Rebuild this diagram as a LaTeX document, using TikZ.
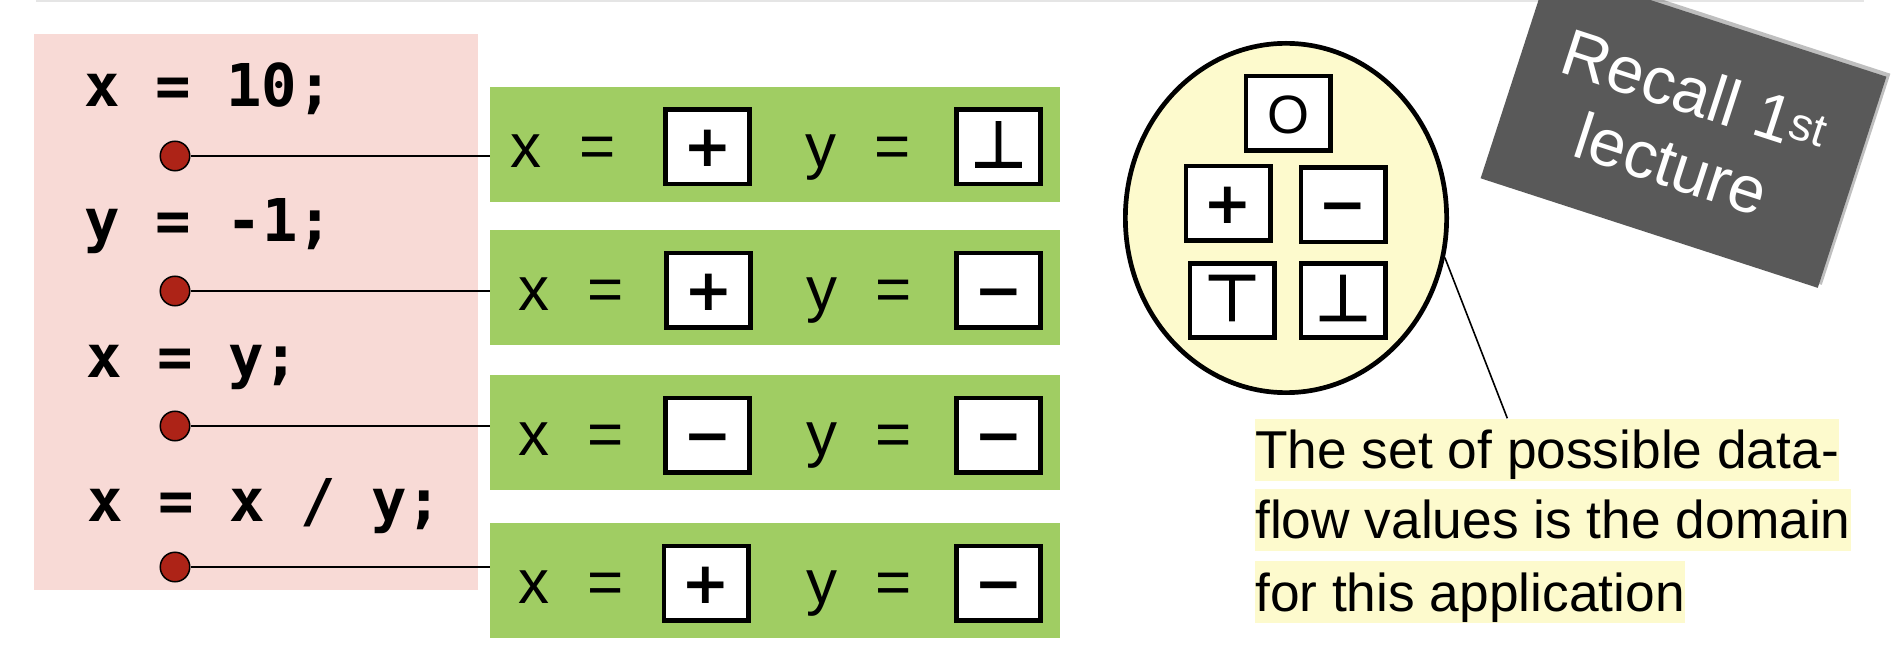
\documentclass[tikz,border=0pt]{standalone}
\usepackage{fontspec}
\setmainfont{Liberation Sans}
\setmonofont{DejaVu Sans Mono}
\newfontfamily\symfont{DejaVu Sans}
\newfontfamily\tackfont[FakeBold=3]{DejaVu Sans}
\usetikzlibrary{
  calc,
  positioning,
  shadows,
  shapes.geometric
}
\definecolor{blush}{HTML}{F8DAD6}
\definecolor{leaf}{HTML}{A0CD63}
\definecolor{lemon}{HTML}{FDFACD}
\definecolor{dotred}{HTML}{AD2317}
\definecolor{slate}{HTML}{595959}
\newcommand{\codefont}{\fontsize{59}{70}\selectfont\ttfamily\bfseries}
\newcommand{\valfont}{\fontsize{58}{58}\selectfont\symfont}
\newcommand{\tack}[1]{{\fontsize{64}{64}\selectfont\tackfont #1}}
\tikzset{
  program/.style={
    fill=blush,
    inner sep=0pt,
    minimum width=443.5pt,
    minimum height=556.4pt,
    anchor=north west
  },
  codeline/.style={
    anchor=base west,
    inner sep=0pt,
    font=\codefont
  },
  point/.style={
    circle,
    draw=black,
    fill=dotred,
    line width=1.5pt,
    minimum size=29.5pt,
    inner sep=0pt
  },
  link/.style={
    line width=2pt,
    draw=black
  },
  state/.style={
    fill=leaf,
    inner sep=0pt,
    minimum width=570pt,
    minimum height=115pt,
    anchor=north west
  },
  varlabel/.style={
    anchor=base west,
    inner sep=0pt,
    font=\fontsize{62}{70}\selectfont
  },
  valbox/.style={
    draw=black,
    fill=white,
    line width=4.7pt,
    minimum width=84.3pt,
    minimum height=74.3pt,
    inner sep=0pt,
    text height=40pt,
    text depth=0pt,
    font=\valfont
  },
  lattice/.style={
    ellipse,
    draw=black,
    fill=lemon,
    line width=4.7pt,
    minimum width=321.3pt,
    minimum height=349.3pt,
    inner sep=0pt
  },
  note/.style={
    fill=lemon,
    inner sep=0pt,
    text height=50pt,
    text depth=12pt,
    anchor=north west,
    font=\fontsize{53.3}{60}\selectfont
  },
  callout/.style={
    line width=1.6pt,
    draw=black
  },
  recall/.style={
    fill=slate,
    text=white,
    rotate=-18,
    minimum width=354.5pt,
    minimum height=222pt,
    align=center,
    font=\fontsize{66}{76}\selectfont,
    drop shadow={shadow xshift=4pt, shadow yshift=3pt,
      fill=black, opacity=0.25}
  }
}
\begin{document}
\begin{tikzpicture}[x=1pt, y=-1pt]
  \useasboundingbox (0,0) rectangle (1898,652);
  \fill[white] (0,0) rectangle (1898,652);
  \fill[black!10] (36,0) rectangle (1864,2.5);

  \node[program] (prog) at (34,33.6) {};
  \node[codeline] (c1) at (84,107) {x = 10;};
  \node[codeline] (c2) at (84.5,241.6) {y = -1;};
  \node[codeline] (c3) at (86,377.3) {x = y;};
  \node[codeline] (c4) at (87,521) {x = x / y;};

  \node[point] (p1) at (175,156) {};
  \node[point] (p2) at (175,291) {};
  \node[point] (p3) at (175,426) {};
  \node[point] (p4) at (175,567) {};

  \node[state] (s1) at (490,86.7) {};
  \node[varlabel] (x1) at ($(s1.west)+(20.5,23)$) {x\hspace{38pt}=};
  \node[valbox] (vx1) at ($(s1.west)+(217.5,2.5)$) {\bfseries +};
  \node[varlabel] (y1) at ($(s1.west)+(315.5,23)$) {y\hspace{38pt}=};
  \node[valbox] (vy1) at ($(s1.west)+(508.5,2.5)$) {\tack{⊥}};

  \node[state] (s2) at (490,230) {};
  \node[varlabel] (x2) at ($(s2.west)+(28.5,23)$) {x\hspace{38pt}=};
  \node[valbox] (vx2) at ($(s2.west)+(218.5,2.5)$) {\bfseries +};
  \node[varlabel] (y2) at ($(s2.west)+(316.5,23)$) {y\hspace{38pt}=};
  \node[valbox] (vy2) at ($(s2.west)+(508.5,2.5)$) {\bfseries −};

  \node[state] (s3) at (490,375) {};
  \node[varlabel] (x3) at ($(s3.west)+(28.5,23)$) {x\hspace{38pt}=};
  \node[valbox] (vx3) at ($(s3.west)+(217.5,2.5)$) {\bfseries −};
  \node[varlabel] (y3) at ($(s3.west)+(316.5,23)$) {y\hspace{38pt}=};
  \node[valbox] (vy3) at ($(s3.west)+(508.5,2.5)$) {\bfseries −};

  \node[state] (s4) at (490,523) {};
  \node[varlabel] (x4) at ($(s4.west)+(28.5,23)$) {x\hspace{38pt}=};
  \node[valbox] (vx4) at ($(s4.west)+(216,2.5)$) {\bfseries +};
  \node[varlabel] (y4) at ($(s4.west)+(316.5,23)$) {y\hspace{38pt}=};
  \node[valbox] (vy4) at ($(s4.west)+(508.5,2.5)$) {\bfseries −};

  \draw[link] (p1) -- (p1 -| s1.west);
  \draw[link] (p2) -- (p2 -| s2.west);
  \draw[link] (p3) -- (p3 -| s3.west);
  \draw[link] (p4) -- (p4 -| s4.west);

  \node[lattice] (lattice) at (1286,218) {};
  \node[valbox, font=\fontsize{54}{54}\selectfont] (ltop) at (1288,113.3) {O};
  \node[valbox] (lplus) at (1228,203.3) {\bfseries +};
  \node[valbox] (lminus) at (1343,205) {\bfseries −};
  \node[valbox] (lall) at (1232,300.5) {\tack{⊤}};
  \node[valbox] (lnone) at (1343,300.5) {\tack{⊥}};

  \node[note] (noteA) at (1255,418.3) {The set of possible data-};
  \node[note, below=8pt of noteA.south west, anchor=north west] (noteB)
    {flow values is the domain\ };
  \node[note, below=9.7pt of noteB.south west, anchor=north west] (noteC)
    {for this application};
  \draw[callout] (lattice.-14) -- ($(noteA.north west)!0.432!(noteA.north east)$);

  \node[recall] (recall) at (1683.5,127.5) {Recall 1\textsuperscript{st}\\lecture};
\end{tikzpicture}
\end{document}
